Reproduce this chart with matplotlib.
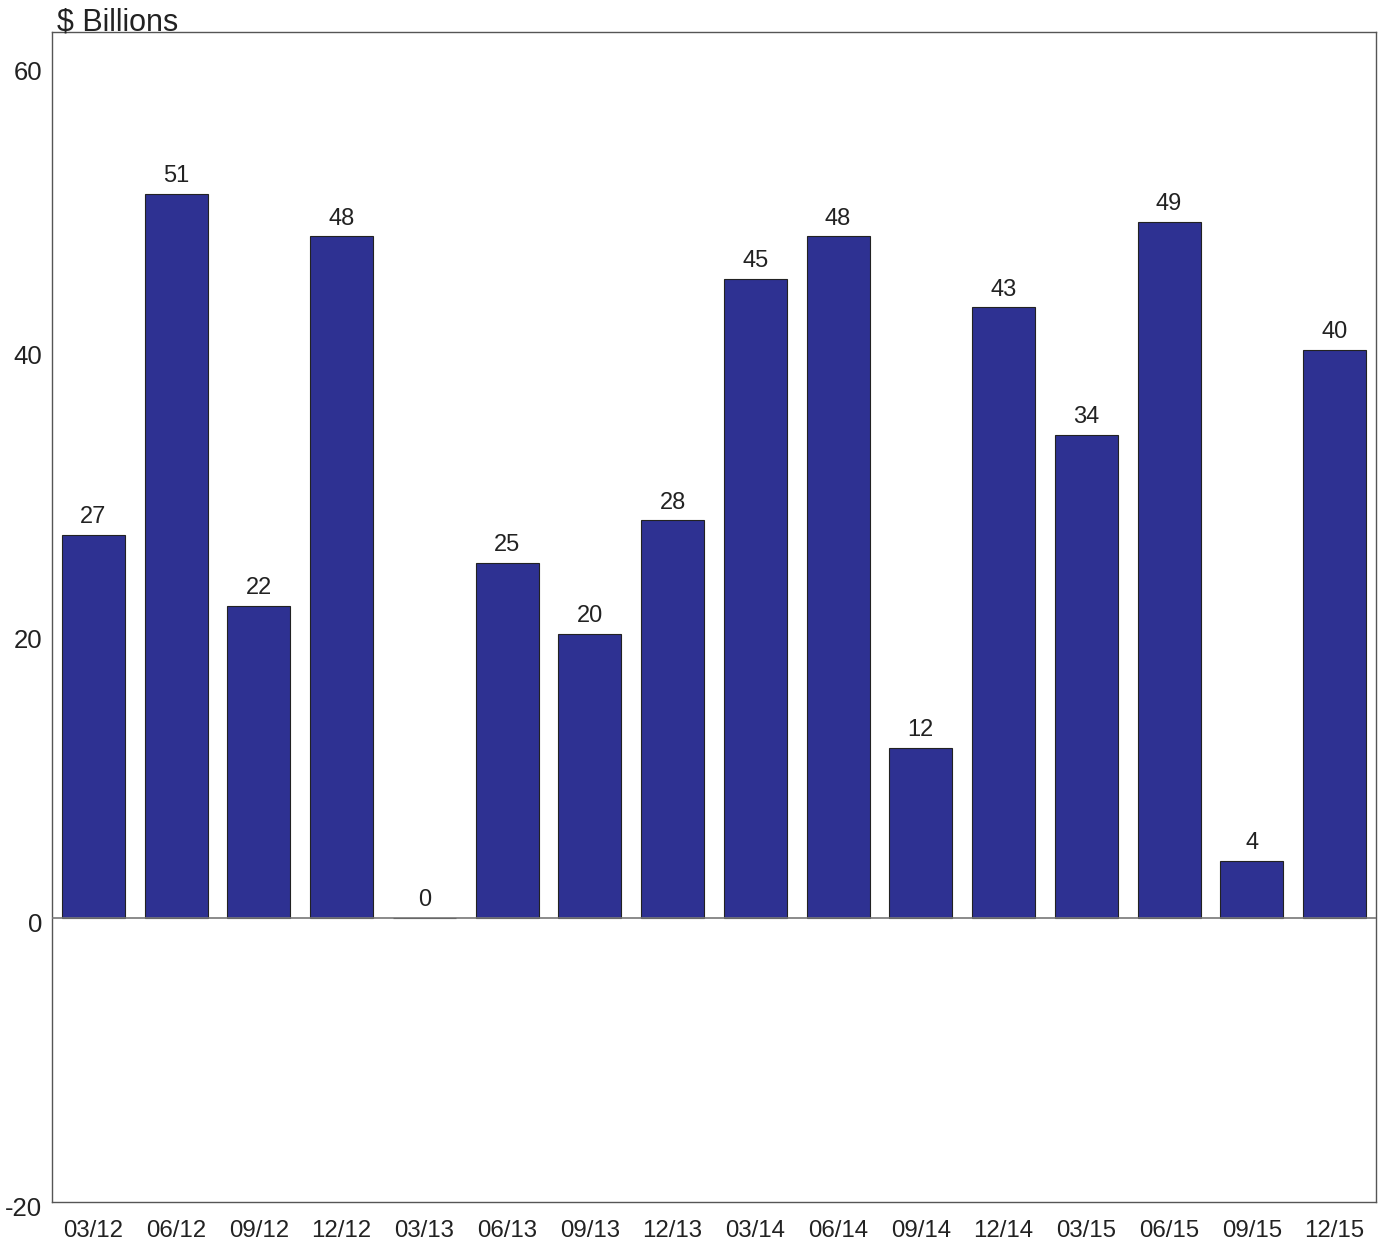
import matplotlib.pyplot as plt
import matplotlib.transforms as mtransforms

plt.rcParams['font.family'] = ['Liberation Sans', 'DejaVu Sans']

quarters = ['03/12', '06/12', '09/12', '12/12', '03/13', '06/13', '09/13', '12/13',
            '03/14', '06/14', '09/14', '12/14', '03/15', '06/15', '09/15', '12/15']
values = [27, 51, 22, 48, 0, 25, 20, 28, 45, 48, 12, 43, 34, 49, 4, 40]
y_ticks = [-20, 0, 20, 40, 60]

fig = plt.figure(figsize=(13.85, 12.45), dpi=100)
ax = fig.add_axes([0.0375, 0.0345, 0.956, 0.9398])

x = range(len(quarters))
ax.bar(x, values, width=0.76, color='#2E3192', edgecolor='#222222', linewidth=0.8, zorder=2)

for xi, v in zip(x, values):
    ax.annotate(str(v), (xi, v), xytext=(0, 5), textcoords='offset points',
                ha='center', va='bottom', fontsize=17, color='#222222')

ax.axhline(0, color='#777777', linewidth=1.2, zorder=3)

ax.set_xlim(-0.5, len(quarters) - 0.5)
ax.set_ylim(-20, 62.4)
ax.set_yticks(y_ticks)
ax.set_yticklabels([str(t) for t in y_ticks])
ax.set_xticks(list(x))
ax.set_xticklabels(quarters)
ax.tick_params(axis='both', length=0, colors='#222222')
ax.tick_params(axis='y', pad=7, labelsize=18.5)
ax.tick_params(axis='x', pad=13, labelsize=17.3)

# y labels sit a few pixels below their tick positions in the original
shift = mtransforms.ScaledTranslation(0, -4 / 100, fig.dpi_scale_trans)
for lbl in ax.get_yticklabels():
    lbl.set_verticalalignment('center_baseline')
    lbl.set_transform(lbl.get_transform() + shift)

for s in ax.spines.values():
    s.set_color('#555555')
    s.set_linewidth(1.0)

fig.text(0.041, 0.9759, '$ Billions', fontsize=22, color='#222222', ha='left', va='baseline')

fig.savefig('out.png', dpi=100)
